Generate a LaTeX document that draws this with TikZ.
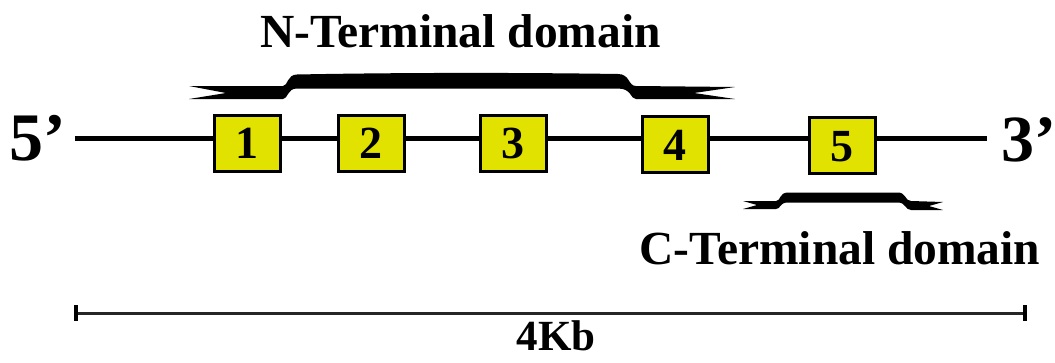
\documentclass[tikz,border=0pt]{standalone}
\usepackage{fontspec}
\setmainfont{Liberation Serif}
\definecolor{exonyellow}{RGB}{226,226,0}
\begin{document}
\begin{tikzpicture}[x=1pt,y=-1pt,
  exon/.style={draw=black,line width=3pt,fill=exonyellow,minimum width=66pt,minimum height=56pt,inner sep=0pt},
  lbl/.style={inner sep=0pt,font=\bfseries},
  gene/.style={line width=5pt},
  bar/.style={line width=3pt,draw=black!85},
  barend/.style={line width=4.5pt}]
\useasboundingbox (0,0) rectangle (1055,362);
% exons
\node[exon] (b1) at (247,143) {};
\node[exon] (b2) at (371,143) {};
\node[exon] (b3) at (513,143) {};
\node[exon] (b4) at (675,144.5) {};
\node[exon] (b5) at (842,145.5) {};
\coordinate (g5) at (75,138);
\coordinate (g3) at (987,138);
\draw[gene] (g5) -- (b1.west |- g5);
\draw[gene] (b1.east |- g5) -- (b2.west |- g5);
\draw[gene] (b2.east |- g5) -- (b3.west |- g5);
\draw[gene] (b3.east |- g5) -- (b4.west |- g5);
\draw[gene] (b4.east |- g5) -- (b5.west |- g5);
\draw[gene] (b5.east |- g5) -- (g3);
% exon numbers
\foreach \i/\yb in {1/158,2/158,3/158,4/160,5/161}{
  \node[lbl,anchor=base] (n\i) at (b\i.center |- 0,\yb) {\fontsize{46}{48}\selectfont\i};
}
% ends
\node[lbl,anchor=base west] (five) at (9,160) {\fontsize{68}{70}\selectfont 5’};
\node[lbl,anchor=base west] (three) at (1001,161) {\fontsize{66}{70}\selectfont 3’};
% N-terminal brace
\fill (189,86) -- (283,86) .. controls (288,86) and (287,74.5) .. (297,74.5)
  .. controls (400,72.5) and (520,72.5) .. (618,74)
  .. controls (630,74) and (628,86) .. (636,86) -- (735,87) -- (694,93) -- (735,99) -- (636,99)
  .. controls (630,99) and (632,88.5) .. (618,88.5) -- (297,88.5)
  .. controls (287,88.5) and (288,99) .. (283,99) -- (189,99) -- (226,93) -- cycle;
\node[lbl,anchor=base] (nterm) at (460.5,47) {\fontsize{47.5}{50}\selectfont N-Terminal domain};
% C-terminal brace
\fill (743,201) -- (776,201) .. controls (781,201) and (779,192.5) .. (788,192.5) -- (898,192.5)
  .. controls (906,192.5) and (905,201) .. (911,201) -- (943,202) -- (929,206) -- (943,210) -- (911,210)
  .. controls (905,210) and (906,202.5) .. (898,202.5) -- (788,202.5)
  .. controls (779,202.5) and (781,209) .. (776,209) -- (743,209) -- (757,205) -- cycle;
\node[lbl,anchor=base] (cterm) at (840,264) {\fontsize{47.5}{50}\selectfont C-Terminal domain};
% scale bar
\coordinate (s1) at (76,313);
\coordinate (s2) at (1025,313);
\draw[bar] (s1) -- (s2);
\draw[barend] ([yshift=-8pt]s1) -- ([yshift=8pt]s1);
\draw[barend] ([yshift=-8pt]s2) -- ([yshift=8pt]s2);
\node[lbl,anchor=base] (kb) at (556,350) {\fontsize{43}{46}\selectfont 4Kb};
\end{tikzpicture}
\end{document}
